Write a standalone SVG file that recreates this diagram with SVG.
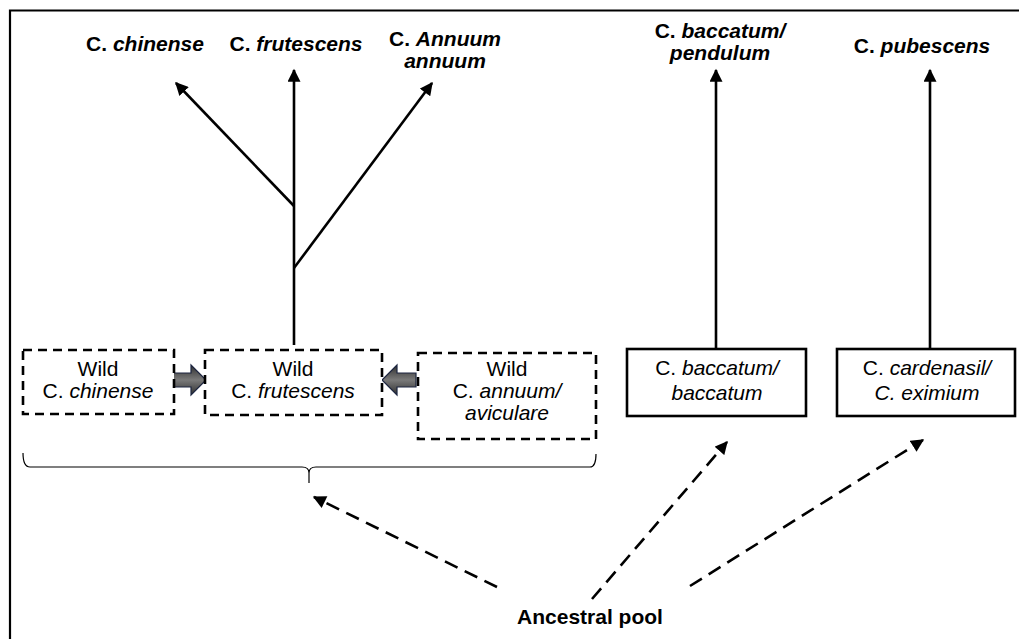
<svg xmlns="http://www.w3.org/2000/svg" width="1019" height="639" viewBox="0 0 1019 639">
<defs>
<style>
.lbl{font-family:"Liberation Sans",Arial,sans-serif;font-size:21px;font-weight:bold;fill:#000;text-anchor:middle}
.txt{font-family:"Liberation Sans",Arial,sans-serif;font-size:21px;fill:#000;text-anchor:middle}
.it{font-style:italic}
.solid{fill:none;stroke:#000;stroke-width:2.6}
.dbox{fill:#fff;stroke:#000;stroke-width:2.6;stroke-dasharray:9 6}
.sbox{fill:#fff;stroke:#000;stroke-width:2.6}
.dash{fill:none;stroke:#000;stroke-width:2.6;stroke-dasharray:14 8}
.brace{fill:none;stroke:#000;stroke-width:1.2}
.fat{stroke:#1c2540;stroke-width:1.2;fill:url(#g)}
</style>
<marker id="ah" viewBox="0 0 10 10" refX="9" refY="5" markerWidth="5.2" markerHeight="5" orient="auto" markerUnits="strokeWidth">
<path d="M0,0 L10,5 L0,10 z" fill="#000"/>
</marker>
<linearGradient id="g" x1="0" y1="0" x2="0" y2="1">
<stop offset="0" stop-color="#2e2e2e"/>
<stop offset="0.5" stop-color="#7a7a7a"/>
<stop offset="1" stop-color="#2e2e2e"/>
</linearGradient>
</defs>
<rect width="1019" height="639" fill="#fff"/>
<path d="M10,639 V10.5 H1019" fill="none" stroke="#000" stroke-width="2.2"/>

<g id="connectors">
<line class="solid" x1="294" y1="345" x2="294" y2="70" marker-end="url(#ah)"/>
<line class="solid" x1="294" y1="206" x2="176" y2="83" marker-end="url(#ah)"/>
<line class="solid" x1="294" y1="268" x2="432" y2="83" marker-end="url(#ah)"/>
<line class="solid" x1="716" y1="349" x2="716" y2="70" marker-end="url(#ah)"/>
<line class="solid" x1="930" y1="349" x2="930" y2="70" marker-end="url(#ah)"/>
<path class="brace" d="M23,453 Q23,467 30,467 H302 Q309,467 309,473 V483 M309,473 Q309,467 316,467 H590 Q596,467 596,454"/>
<line class="dash" x1="497" y1="587" x2="314" y2="497" marker-end="url(#ah)"/>
<line class="dash" x1="592" y1="599" x2="727" y2="442" marker-end="url(#ah)"/>
<line class="dash" x1="690" y1="586" x2="923" y2="440" marker-end="url(#ah)"/>
<path class="fat" d="M172,373 H191 V365 L206,380 L191,395 V387 H172 Z"/>
<path class="fat" d="M416,373 H397 V365 L382,380 L397,395 V387 H416 Z"/>
</g>

<g id="top-chinense"><text class="lbl" x="145" y="51">C. <tspan class="it">chinense</tspan></text></g>
<g id="top-frutescens"><text class="lbl" x="296" y="51">C. <tspan class="it">frutescens</tspan></text></g>
<g id="top-annuum"><text class="lbl" x="445" y="46">C. <tspan class="it">Annuum</tspan></text><text class="lbl it" x="445" y="68">annuum</text></g>
<g id="top-baccatum"><text class="lbl" x="720" y="38">C. <tspan class="it">baccatum/</tspan></text><text class="lbl it" x="720" y="60">pendulum</text></g>
<g id="top-pubescens"><text class="lbl" x="922" y="53">C. <tspan class="it">pubescens</tspan></text></g>

<g id="wild-chinense"><rect class="dbox" x="23" y="350" width="151" height="64"/><text class="txt" x="98" y="376">Wild</text><text class="txt" x="98" y="398">C. <tspan class="it">chinense</tspan></text></g>
<g id="wild-frutescens"><rect class="dbox" x="205" y="350" width="177" height="65"/><text class="txt" x="293" y="376">Wild</text><text class="txt" x="293" y="398">C. <tspan class="it">frutescens</tspan></text></g>
<g id="wild-annuum"><rect class="dbox" x="418" y="353" width="178" height="86"/><text class="txt" x="507" y="376">Wild</text><text class="txt" x="507" y="398">C. <tspan class="it">annuum/</tspan></text><text class="txt it" x="507" y="420">aviculare</text></g>
<g id="baccatum-box"><rect class="sbox" x="627" y="349" width="179" height="67"/><text class="txt it" x="717" y="375"><tspan font-style="normal">C. </tspan>baccatum/</text><text class="txt it" x="717" y="400">baccatum</text></g>
<g id="cardenasil-box"><rect class="sbox" x="837" y="349" width="178" height="67"/><text class="txt it" x="927" y="375"><tspan font-style="normal">C. </tspan>cardenasil/</text><text class="txt it" x="927" y="400">C. eximium</text></g>
<g id="ancestral"><text class="lbl" x="590" y="624">Ancestral pool</text></g>
</svg>
